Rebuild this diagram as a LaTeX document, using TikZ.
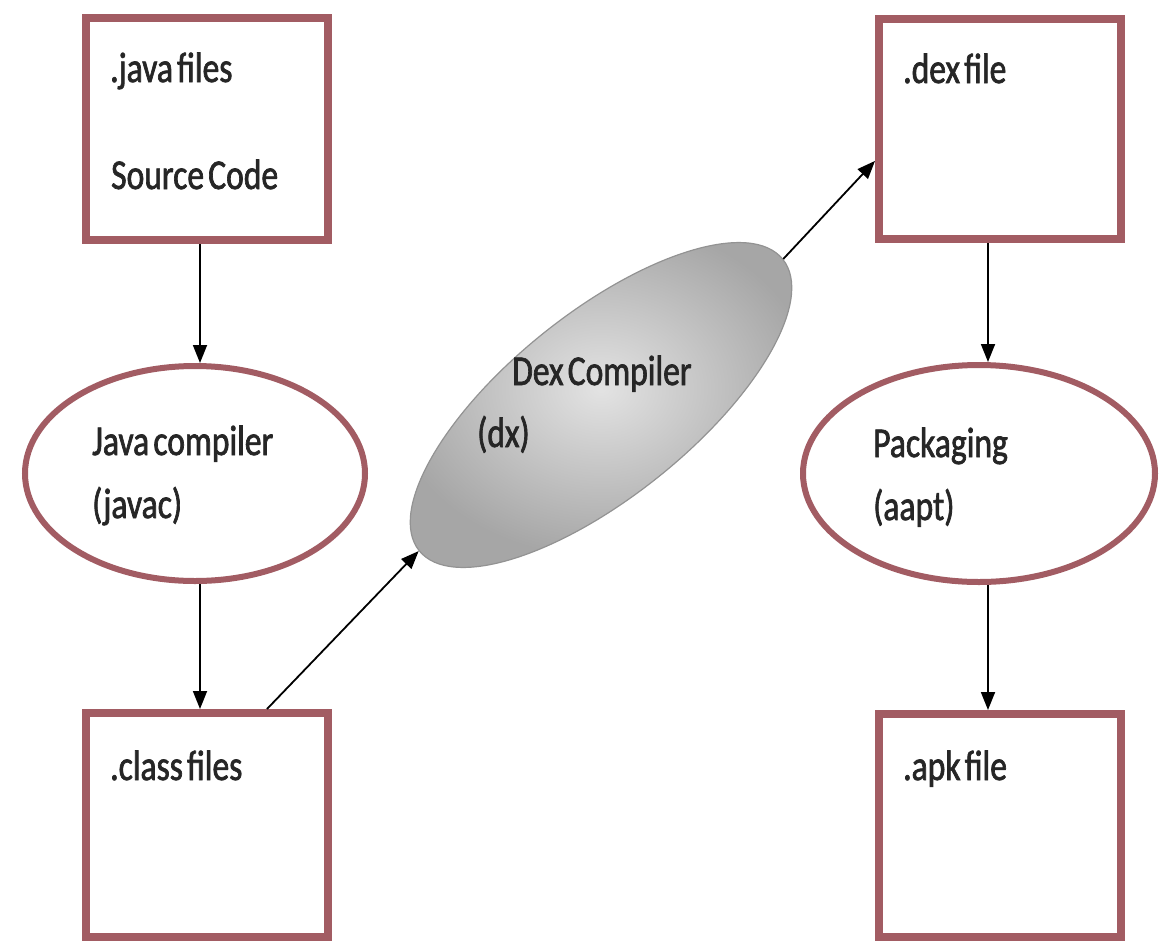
\documentclass[tikz,border=0pt]{standalone}
\usepackage{fontspec}
\setmainfont{Carlito}[FakeStretch=0.79,FakeBold=1.6,WordSpace=0.55]
\usetikzlibrary{shapes.geometric,arrows.meta,calc}
\definecolor{boxred}{RGB}{162,92,99}
\definecolor{txt}{RGB}{38,38,38}
\begin{document}
\begin{tikzpicture}[x=1pt,y=-1pt,
  filebox/.style={draw=boxred,line width=8pt,rectangle,inner sep=0pt,minimum width=242pt,fill=white},
  toolell/.style={draw=boxred,line width=6pt,ellipse,inner sep=0pt,fill=white},
  lbl/.style={anchor=base west,inner sep=0pt,text=txt,font=\fontsize{42.5}{50}\selectfont},
  arr/.style={draw=black,line width=1.8pt,-{Triangle[length=18pt,width=14pt]}}]
\useasboundingbox (0,0) rectangle (1165,951);
% boxes
\node[filebox,minimum height=222pt] (src) at (207,129) {};
\node[filebox,minimum height=224pt] (cls) at (207,825) {};
\node[filebox,minimum height=220pt] (dexf) at (1000,129) {};
\node[filebox,minimum height=223pt] (apk) at (1000,825.5) {};
% ellipses
\node[toolell,minimum width=340pt,minimum height=215pt] (javac) at (195,473.5) {};
\node[toolell,minimum width=352pt,minimum height=217pt] (aapt) at (979,473.5) {};
\node[ellipse,rotate=38.7,minimum width=466pt,minimum height=184pt,inner sep=0pt,
  draw=gray!85,line width=1.2pt,inner color=gray!22,outer color=gray!70] (dx) at (601,405) {};
% labels
\node[lbl] (t1) at (110,82) {.java files};
\node[lbl] (t2) at (111,189) {Source Code};
\node[lbl] (t3) at (110,780) {.class files};
\node[lbl] (t4) at (903,83) {.dex file};
\node[lbl] (t5) at (903,780) {.apk file};
\node[lbl] (t6) at (92,455) {Java compiler};
\node[lbl] (t7) at (92,518) {(javac)};
\node[lbl] (t8) at (873,457) {Packaging};
\node[lbl] (t9) at (873,520) {(aapt)};
\node[lbl] (t10) at (512,385) {Dex Compiler};
\node[lbl] (t11) at (477,447) {(dx)};
% connectors
\coordinate (lx) at (200,0);
\coordinate (rx) at (988,0);
\draw[arr] (src.south -| lx) -- (javac.north -| lx);
\draw[arr] (javac.south -| lx) -- (cls.north -| lx);
\draw[arr] ($(cls.north west)!0.74!(cls.north east)$) -- (dx.west);
\draw[arr] (dx.east) -- ($(dexf.north west)!0.64!(dexf.south west)$);
\draw[arr] (dexf.south -| rx) -- (aapt.north -| rx);
\draw[arr] (aapt.south -| rx) -- (apk.north -| rx);
\end{tikzpicture}
\end{document}
